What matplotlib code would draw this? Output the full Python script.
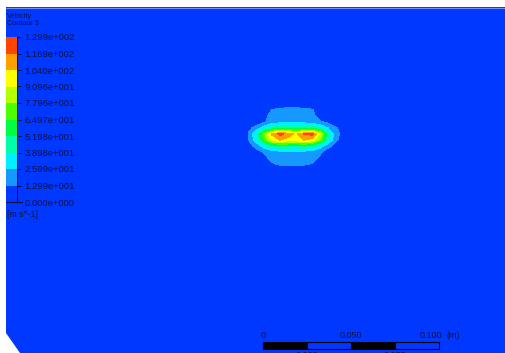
import numpy as np
import matplotlib as mpl
import matplotlib.pyplot as plt
from matplotlib.colors import ListedColormap, BoundaryNorm
from matplotlib.patches import Polygon, Rectangle

plt.rcParams['font.family'] = ['Liberation Sans', 'DejaVu Sans']

# legend range (velocity, m/s)
v_max = 129.94
levels = np.linspace(0, v_max, 11)
band_colors = ['#0038ff', '#1598ff', '#00f0ff', '#00ffa8', '#00ff40',
               '#4cff00', '#b4ff00', '#ffff00', '#ffa000', '#ff4400']

# velocity on a coarse grid (pixel positions of the view)
grid_x = [248, 256, 264, 272, 280, 288, 296, 304, 312, 320, 328, 336, 344]
grid_y = [104, 110, 116, 122, 128, 134, 140, 146, 152, 158, 164, 170]
speed = [
    [0, 0, 0, 0, 0, 0, 0, 0, 0, 0, 0, 0, 0],
    [0, 0, 0, 14, 19, 20, 20, 19, 15, 0, 0, 0, 0],
    [0, 0, 8, 19, 21, 21, 21, 21, 18, 6, 0, 0, 0],
    [0, 4, 11, 20, 22, 22, 22, 22, 19, 15, 10, 2, 0],
    [7, 19, 32, 44, 50, 50, 47, 50, 48, 40, 26, 15, 4],
    [15, 36, 74, 106, 121, 112, 100, 117, 122, 90, 44, 19, 5],
    [12, 31, 64, 94, 104, 98, 96, 104, 98, 74, 38, 16, 3],
    [5, 18, 32, 44, 48, 48, 47, 48, 44, 32, 18, 7, 0],
    [0, 6, 14, 20, 22, 22, 22, 22, 21, 16, 5, 0, 0],
    [0, 0, 8, 18, 20, 20, 20, 20, 19, 10, 0, 0, 0],
    [0, 0, 0, 11, 16, 16, 16, 16, 12, 0, 0, 0, 0],
    [0, 0, 0, 0, 0, 0, 0, 0, 0, 0, 0, 0, 0],
]

# length scale
scale_ticks = [0, 0.025, 0.05, 0.075, 0.1]
scale_labels = ['0', '0.025', '0.050', '0.075', '0.100']


def cfx_fmt(v):
    if v == 0:
        return '0.000e+000'
    e = int(np.floor(np.log10(abs(v))))
    m = v / 10 ** e
    return f"{m:.3f}e{'+' if e >= 0 else '-'}{abs(e):03d}"


fig = plt.figure(figsize=(5.06, 3.53), dpi=100)
ax = fig.add_axes([0, 0, 1, 1])
ax.set_xlim(0, 506)
ax.set_ylim(353, 0)
ax.axis('off')

# blue viewport with clipped corner
ax.add_patch(Polygon([(6, 7), (506, 7), (506, 353), (20, 353), (6, 333)],
                     closed=True, facecolor=band_colors[0], edgecolor='none', zorder=0))
ax.plot([6, 506], [7.5, 7.5], color='#6f8fff', lw=0.8, zorder=1)

ax.contourf(grid_x, grid_y, speed, levels=levels, colors=band_colors, zorder=2)

# legend
ax.text(7, 18, 'Velocity', fontsize=5.2, color='#101040', va='baseline')
ax.text(7, 25, 'Contour 3', fontsize=5.2, color='#101040', va='baseline')

cax = fig.add_axes([6 / 506, 151 / 353, 11 / 506, 165 / 353])
cb = mpl.colorbar.ColorbarBase(cax, cmap=ListedColormap(band_colors),
                               norm=BoundaryNorm(levels, len(band_colors)),
                               ticks=levels)
cb.outline.set_visible(False)
cax.yaxis.set_ticks_position('right')
cax.set_yticklabels([cfx_fmt(v) for v in levels])
cax.tick_params(axis='y', length=3, width=0.7, color='#101040', pad=2.5,
                labelsize=6.8, labelcolor='#101040')
ax.plot([17, 17], [37, 202], color='#101040', lw=0.8, zorder=3)
ax.plot([6, 22], [202, 202], color='#101040', lw=0.8, zorder=3)
ax.text(7, 217, '[m s^-1]', fontsize=6.3, color='#101040', va='baseline')

# scale bar
px_per_m = 1760
x0, y_bar, h_bar = 263, 342, 6.5
for i in range(len(scale_ticks) - 1):
    a = x0 + scale_ticks[i] * px_per_m
    b = x0 + scale_ticks[i + 1] * px_per_m
    ax.add_patch(Rectangle((a, y_bar), b - a, h_bar,
                           facecolor='black' if i % 2 == 0 else band_colors[0],
                           edgecolor='#000010', lw=0.8, zorder=4))
for i, (t, lab) in enumerate(zip(scale_ticks, scale_labels)):
    xp = x0 + t * px_per_m
    if i % 2 == 0:
        if lab == '0.100':
            ax.text(xp + 3, 338, lab, fontsize=6.5, color='#101040', ha='right', va='baseline')
        else:
            ax.text(xp, 338, lab, fontsize=6.5, color='#101040', ha='center', va='baseline')
    else:
        # these labels sit below the bar and are cut by the picture edge
        ax.text(xp, 358, lab, fontsize=6.5, color='#101040', ha='center', va='baseline')
ax.text(447, 338, '(m)', fontsize=6.5, color='#101040', va='baseline')

fig.savefig('out.png', dpi=100)
